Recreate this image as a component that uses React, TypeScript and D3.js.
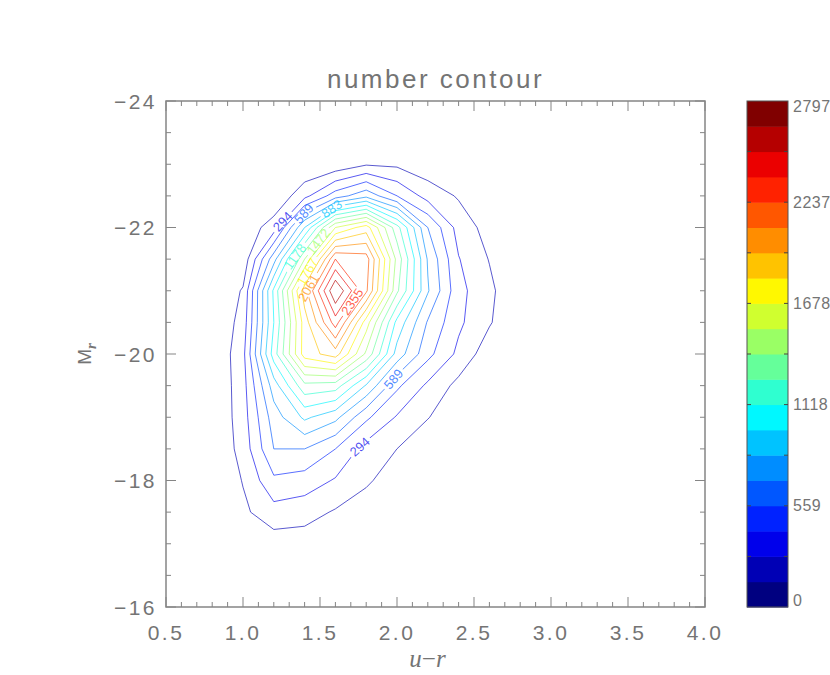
import { useMemo } from "react";
import * as d3 from "d3";

// grid of galaxy counts (rows top -> bottom)
const urGrid = [0.8, 1.0, 1.2, 1.4, 1.6, 1.8, 2.0, 2.2, 2.4, 2.6, 2.8];
const mrGrid = [-23.5, -23.0, -22.5, -22.0, -21.5, -21.0, -20.5, -20.0, -19.5, -19.0, -18.5, -18.0, -17.5, -17.0, -16.5];
const counts = [
  [0, 0, 0, 0, 0, 0, 0, 0, 0, 0, 0],
  [0, 0, 0, 15, 44, 132, 118, 52, 0, 0, 0],
  [0, 0, 15, 250, 515, 692, 442, 236, 132, 29, 0],
  [0, 44, 221, 883, 1619, 1840, 1236, 589, 236, 88, 0],
  [0, 44, 677, 1472, 2355, 2282, 1428, 721, 302, 140, 0],
  [0, 162, 1060, 2002, 2797, 2237, 1354, 751, 339, 184, 0],
  [0, 206, 1030, 1840, 2429, 1693, 986, 574, 324, 162, 0],
  [0, 250, 1104, 1840, 1987, 1443, 824, 486, 258, 59, 0],
  [0, 236, 810, 1281, 1251, 868, 471, 265, 103, 0, 0],
  [0, 228, 662, 913, 780, 471, 280, 155, 29, 0, 0],
  [0, 206, 589, 589, 442, 236, 147, 29, 0, 0, 0],
  [0, 155, 412, 375, 280, 177, 44, 0, 0, 0, 0],
  [0, 118, 236, 206, 132, 44, 0, 0, 0, 0, 0],
  [0, 0, 74, 74, 15, 0, 0, 0, 0, 0, 0],
  [0, 0, 0, 0, 0, 0, 0, 0, 0, 0, 0],
];

const maxCount = 2797;
const nLevels = 19;
const nBands = 20;
const colorbarTicks = [0, 559, 1118, 1678, 2237, 2797];

const xTicks = [0.5, 1.0, 1.5, 2.0, 2.5, 3.0, 3.5, 4.0];
const xTickLabels = ["0.5", "1.0", "1.5", "2.0", "2.5", "3.0", "3.5", "4.0"];
const yTicks = [-24, -22, -20, -18, -16];
const yTickLabels = ["\u221224", "\u221222", "\u221220", "\u221218", "\u221216"];

// where the level labels sit (level index, u-r, M_r)
const labelSpots = [
  { level: 2, ur: 1.29, mr: -22.02 },
  { level: 2, ur: 1.76, mr: -18.53 },
  { level: 4, ur: 1.39, mr: -22.23 },
  { level: 4, ur: 1.97, mr: -19.62 },
  { level: 6, ur: 1.58, mr: -22.28 },
  { level: 8, ur: 1.35, mr: -21.52 },
  { level: 10, ur: 1.46, mr: -21.83 },
  { level: 12, ur: 1.42, mr: -21.3 },
  { level: 14, ur: 1.45, mr: -21.01 },
  { level: 16, ur: 1.75, mr: -20.76 },
];

const W = 830;
const H = 675;
const plot = { left: 166, right: 705, top: 101, bottom: 607 };
const bar = { left: 747, right: 788 };

function jet(t: number) {
  const c = (v: number) => Math.max(0, Math.min(1, v));
  const r = c(1.5 - Math.abs(4 * t - 3));
  const g = c(1.5 - Math.abs(4 * t - 2));
  const b = c(1.5 - Math.abs(4 * t - 1));
  return d3.rgb(r * 255, g * 255, b * 255).formatHex();
}

export default function App() {
  const x = d3.scaleLinear().domain([0.5, 4.0]).range([plot.left, plot.right]);
  const y = d3.scaleLinear().domain([-24, -16]).range([plot.top, plot.bottom]);
  const cb = d3.scaleLinear().domain([0, maxCount]).range([plot.bottom, plot.top]);

  const nx = urGrid.length;
  const ny = mrGrid.length;
  const gx = d3.scaleLinear().domain([0.5, nx - 0.5]).range([urGrid[0], urGrid[nx - 1]]);
  const gy = d3.scaleLinear().domain([0.5, ny - 0.5]).range([mrGrid[0], mrGrid[ny - 1]]);

  const levels = useMemo(() => {
    const thresholds = d3.range(1, nLevels).map((k) => (k * maxCount) / nLevels);
    const cs = d3.contours().size([nx, ny]).thresholds(thresholds)(counts.flat());
    return cs.map((c, i) => {
      const rings: [number, number][][] = [];
      c.coordinates.forEach((poly) =>
        poly.forEach((ring) => rings.push(ring.map((p) => [x(gx(p[0])), y(gy(p[1]))] as [number, number])))
      );
      return { k: i + 1, value: c.value, rings, color: jet((i + 1) / nLevels) };
    });
  }, []);

  const line = d3.line();

  // label positions: nearest point on the level's rings to the hint
  const labels = labelSpots.map((s, idx) => {
    const lv = levels[s.level - 1];
    const hx = x(s.ur);
    const hy = y(s.mr);
    let best = { d: Infinity, px: hx, py: hy, ang: 0 };
    lv.rings.forEach((ring) => {
      for (let i = 0; i < ring.length - 1; i++) {
        const [ax, ay] = ring[i];
        const [bx, by] = ring[i + 1];
        const dx = bx - ax;
        const dy = by - ay;
        const L2 = dx * dx + dy * dy || 1;
        const t = Math.max(0, Math.min(1, ((hx - ax) * dx + (hy - ay) * dy) / L2));
        const px = ax + t * dx;
        const py = ay + t * dy;
        const d = Math.hypot(px - hx, py - hy);
        if (d < best.d) best = { d, px, py, ang: (Math.atan2(dy, dx) * 180) / Math.PI };
      }
    });
    let ang = best.ang;
    if (ang > 90) ang -= 180;
    if (ang < -90) ang += 180;
    const text = String(Math.round(lv.value));
    return { id: idx, k: s.level, x: best.px, y: best.py, ang, text, color: lv.color, w: text.length * 7.6 + 4 };
  });

  const xMinor = d3.range(5, 41).map((v) => v / 10);
  const yMinor = d3.range(-48, -31).map((v) => v / 2);
  const bandH = maxCount / nBands;
  const barTicks = d3.range(1, nBands / 2).map((i) => i * 2 * bandH);

  const axisColor = "#858585";
  const textColor = "#747474";
  const sans = "'Liberation Sans', Arial, sans-serif";
  const serif = "'Liberation Serif', 'Times New Roman', serif";

  return (
    <svg width={W} height={H} style={{ position: "absolute", left: 0, top: 0, background: "#fff" }}>
      <defs>
        {levels.map((lv) => (
          <mask key={lv.k} id={`gap${lv.k}`} maskUnits="userSpaceOnUse" x={0} y={0} width={W} height={H}>
            <rect x={0} y={0} width={W} height={H} fill="#fff" />
            {labels
              .filter((l) => l.k === lv.k)
              .map((l) => (
                <rect
                  key={l.id}
                  x={-l.w / 2}
                  y={-5}
                  width={l.w}
                  height={10}
                  fill="#000"
                  transform={`translate(${l.x},${l.y}) rotate(${l.ang})`}
                />
              ))}
          </mask>
        ))}
      </defs>

      {/* title */}
      <text x={(plot.left + plot.right) / 2} y={88} textAnchor="middle" fontFamily={sans} fontSize={26} letterSpacing={2.5} fill={textColor}>
        number contour
      </text>

      {/* contour lines */}
      <g fill="none" strokeWidth={1} strokeOpacity={0.65}>
        {levels.map((lv) => (
          <g key={lv.k} mask={`url(#gap${lv.k})`} stroke={lv.color}>
            {lv.rings.map((r, i) => (
              <path key={i} d={line(r) + "Z"} />
            ))}
          </g>
        ))}
      </g>
      {labels.map((l) => (
        <text
          key={l.id}
          transform={`translate(${l.x},${l.y}) rotate(${l.ang})`}
          textAnchor="middle"
          dominantBaseline="central"
          fontFamily={sans}
          fontSize={13}
          fill={l.color}
          fillOpacity={0.7}
        >
          {l.text}
        </text>
      ))}

      {/* plot frame and ticks */}
      <rect x={plot.left} y={plot.top} width={plot.right - plot.left} height={plot.bottom - plot.top} fill="none" stroke={axisColor} strokeWidth={1.5} />
      <g stroke={axisColor} strokeWidth={1}>
        {xMinor.map((v) => {
          const major = Math.abs(v * 2 - Math.round(v * 2)) < 1e-6;
          const len = major ? 10 : 5;
          return (
            <g key={v}>
              <line x1={x(v)} x2={x(v)} y1={plot.bottom} y2={plot.bottom - len} />
              <line x1={x(v)} x2={x(v)} y1={plot.top} y2={plot.top + len} />
            </g>
          );
        })}
        {yMinor.map((v) => {
          const major = Math.abs(v / 2 - Math.round(v / 2)) < 1e-6;
          const len = major ? 10 : 5;
          return (
            <g key={v}>
              <line x1={plot.left} x2={plot.left + len} y1={y(v)} y2={y(v)} />
              <line x1={plot.right} x2={plot.right - len} y1={y(v)} y2={y(v)} />
            </g>
          );
        })}
      </g>
      <g fontFamily={sans} fontSize={21} fill={textColor} letterSpacing={2.5}>
        {xTicks.map((v, i) => (
          <text key={v} x={x(v)} y={640} textAnchor="middle">
            {xTickLabels[i]}
          </text>
        ))}
        {yTicks.map((v, i) => (
          <text key={v} x={157} y={y(v)} textAnchor="end" dominantBaseline="central">
            {yTickLabels[i]}
          </text>
        ))}
      </g>

      {/* axis titles */}
      <text x={(plot.left + plot.right) / 2 - 8} y={667} textAnchor="middle" fontFamily={serif} fontStyle="italic" fontSize={25} fill={textColor}>
        u<tspan fontStyle="normal">{"\u2212"}</tspan>r
      </text>
      <text transform={`translate(91,${(plot.top + plot.bottom) / 2}) rotate(-90)`} textAnchor="middle" fontFamily={sans} fontSize={19} fill={textColor}>
        M
        <tspan fontFamily={serif} fontStyle="italic" fontWeight="bold" fontSize={15} dy={5}>
          r
        </tspan>
      </text>

      {/* colour bar */}
      <g>
        {d3.range(nBands).map((i) => (
          <rect
            key={i}
            x={bar.left}
            width={bar.right - bar.left}
            y={cb((i + 1) * bandH)}
            height={cb(i * bandH) - cb((i + 1) * bandH) + 0.5}
            fill={jet(i / (nBands - 1))}
          />
        ))}
        <rect x={bar.left} y={plot.top} width={bar.right - bar.left} height={plot.bottom - plot.top} fill="none" stroke="#555" strokeWidth={1} />
        <g stroke="#444" strokeWidth={1}>
          {barTicks.map((v) => (
            <g key={v}>
              <line x1={bar.left} x2={bar.left + 4} y1={cb(v)} y2={cb(v)} />
              <line x1={bar.right} x2={bar.right - 4} y1={cb(v)} y2={cb(v)} />
            </g>
          ))}
        </g>
        <g fontFamily={sans} fontSize={16} fill={textColor} letterSpacing={0.5}>
          {colorbarTicks.map((v) => (
            <text key={v} x={793} y={Math.min(600, Math.max(106, cb(v)))} dominantBaseline="central">
              {v}
            </text>
          ))}
        </g>
      </g>
    </svg>
  );
}
